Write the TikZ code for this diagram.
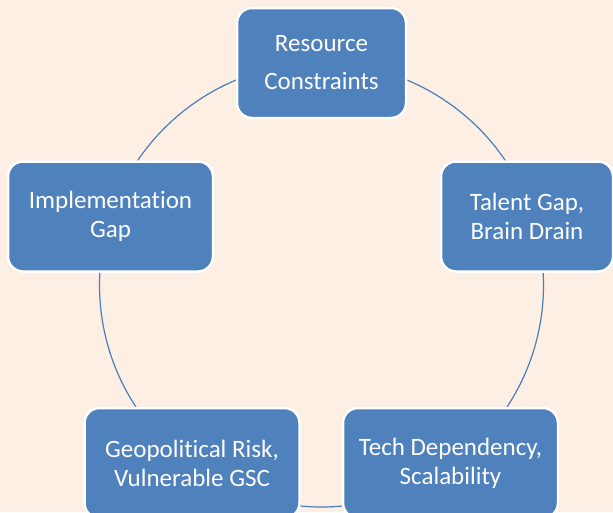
\documentclass[tikz,border=0pt]{standalone}
\usepackage{fontspec}
\setmainfont{Carlito}[Ligatures=NoCommon]
\definecolor{pagebg}{HTML}{FDEFE4}
\definecolor{boxblue}{HTML}{4F81BD}
\definecolor{ringblue}{HTML}{4A7EBB}
\tikzset{
  stage/.style={rectangle, rounded corners=15pt, fill=boxblue, draw=white,
    line width=2.5pt, text=white, align=center, inner sep=0pt,
    minimum height=110pt, font=\fontsize{25}{29}\selectfont},
  widelead/.style={font=\fontsize{25}{38}\selectfont},
  ring/.style={draw=ringblue, line width=1.2pt}
}
\begin{document}
\begin{tikzpicture}[x=1pt,y=-1pt]
  % page
  \fill[pagebg] (0,0) rectangle (613,512);
  \useasboundingbox (0,0) rectangle (613,512);
  % cycle ring through the five stages
  \coordinate (hub) at (321.5,285);
  \draw[ring] (hub) circle[radius=222pt];
  % stages
  \node[stage, widelead, minimum width=169pt] (res) at (321.5,63) {Resource\\Constraints};
  \node[stage, minimum width=172pt] (tal) at (527,216.5) {Talent Gap,\\Brain Drain};
  \node[stage, minimum width=215pt] (tech) at (450.5,463) {Tech Dependency,\\Scalability};
  \node[stage, minimum width=215pt] (geo) at (192,463) {Geopolitical Risk,\\Vulnerable GSC};
  \node[stage, minimum width=205pt] (impl) at (110.5,216.5) {Implementation\\Gap};
\end{tikzpicture}
\end{document}
